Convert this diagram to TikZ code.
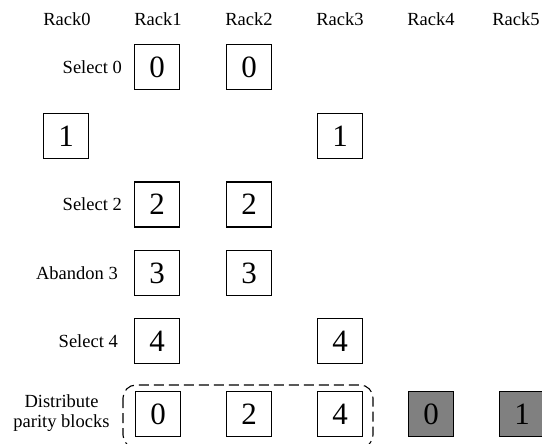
\documentclass[tikz,border=0pt]{standalone}
\usepackage{fontspec}
\setmainfont{Liberation Serif}
\begin{document}
\begin{tikzpicture}[x=1pt,y=-1pt,
  blk/.style={draw,line width=1.2pt,minimum width=45pt,minimum height=45pt,inner sep=0pt,font=\fontsize{31}{34}\selectfont},
  parity/.style={blk,fill=black!50},
  rack/.style={font=\fontsize{18.5}{21}\selectfont},
  lbl/.style={anchor=east,font=\fontsize{18.5}{21}\selectfont,inner sep=0pt},
  group/.style={draw,line width=1.1pt,rounded corners=13pt,dash pattern=on 10pt off 5pt}]
\useasboundingbox (0,0) rectangle (542,444);
\clip (0,0) rectangle (542,444);

% rack headers
\node[rack] (r0) at (67,19) {Rack0};
\node[rack] (r1) at (158,19) {Rack1};
\node[rack] (r2) at (249,19) {Rack2};
\node[rack] (r3) at (340,19) {Rack3};
\node[rack] (r4) at (431,19) {Rack4};
\node[rack] (r5) at (516,19) {Rack5};

% step labels
\node[lbl] (l0) at (122,67) {Select 0};
\node[lbl] (l2) at (122,204.5) {Select 2};
\node[lbl] (l3) at (118,273) {Abandon 3};
\node[lbl] (l4) at (118,341) {Select 4};
\node[font=\fontsize{18.5}{19.5}\selectfont,align=center,inner sep=0pt] (ld) at (61.5,413) {Distribute\\parity blocks};

% data blocks
\node[blk] (a0) at (157,67) {0};
\node[blk] (b0) at (249,67) {0};
\node[blk] (a1) at (66,136) {1};
\node[blk] (b1) at (340,136) {1};
\node[blk] (a2) at (157,204.5) {2};
\node[blk] (b2) at (249,204.5) {2};
\node[blk] (a3) at (157,273) {3};
\node[blk] (b3) at (249,273) {3};
\node[blk] (a4) at (157,341) {4};
\node[blk] (b4) at (340,341) {4};

% final placement
\node[blk] (d0) at (158,414) {0};
\node[blk] (d2) at (249,414) {2};
\node[blk] (d4) at (340,414) {4};
\node[parity] (p0) at (431,414) {0};
\node[parity] (p1) at (522,414) {1};

% dashed group around distributed data blocks
\draw[group] (123,385) rectangle (373,448);
\end{tikzpicture}
\end{document}
